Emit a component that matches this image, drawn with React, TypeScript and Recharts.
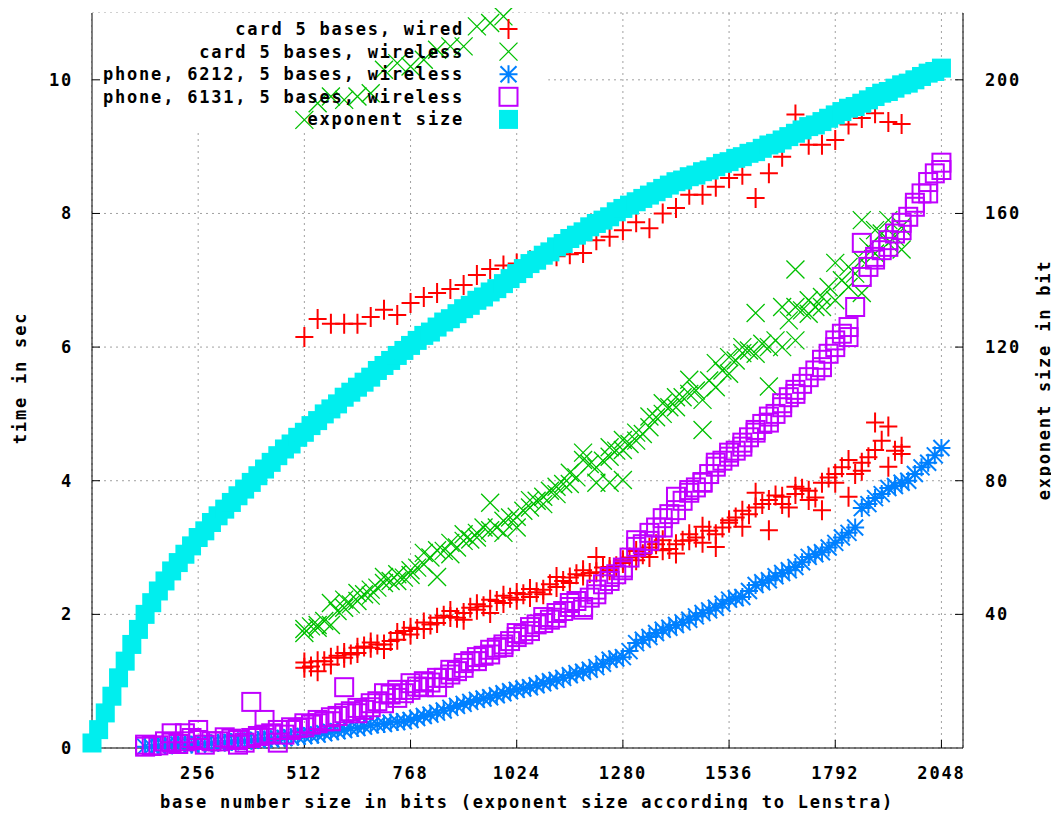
import React from "react";
import { ScatterChart, Scatter, XAxis, YAxis, CartesianGrid, ReferenceArea } from "recharts";

type Pt = [number, number];

const xTicks = [256, 512, 768, 1024, 1280, 1536, 1792, 2048];
const timeTicks = [0, 2, 4, 6, 8, 10];
const expTicks = [40, 80, 120, 160, 200];

// card 5 bases, wired: a slow first run and the main run
const wiredUpper: Pt[] = [
  [512, 6.15], [544, 6.42], [576, 6.35], [608, 6.35], [640, 6.35], [672, 6.45], [704, 6.56],
  [736, 6.48], [768, 6.66], [800, 6.75], [832, 6.81], [864, 6.87], [896, 6.93], [928, 7.08],
  [960, 7.17], [992, 7.22], [1024, 7.25], [1056, 7.3], [1088, 7.33], [1120, 7.36], [1152, 7.39],
  [1184, 7.41], [1216, 7.6], [1248, 7.65], [1280, 7.75], [1312, 7.87], [1344, 7.78], [1376, 8.0],
  [1408, 8.08], [1440, 8.28], [1472, 8.28], [1504, 8.4], [1536, 8.53], [1568, 8.58], [1600, 8.23],
  [1632, 8.6], [1664, 8.85], [1696, 9.48], [1728, 9.03], [1760, 9.03], [1792, 9.1], [1824, 9.33],
  [1856, 9.43], [1888, 9.5], [1920, 9.37], [1952, 9.34],
];
const wiredLower: Pt[] = [
  [512, 1.2], [512, 1.28], [528, 1.22], [544, 1.15], [544, 1.3], [560, 1.3], [576, 1.25], [576, 1.35],
  [592, 1.38], [608, 1.42], [608, 1.35], [624, 1.4], [640, 1.5], [640, 1.42], [656, 1.52], [672, 1.5],
  [672, 1.58], [688, 1.55], [704, 1.55], [704, 1.48], [720, 1.6], [736, 1.72], [736, 1.62], [752, 1.75],
  [768, 1.8], [768, 1.7], [784, 1.78], [800, 1.78], [800, 1.88], [816, 1.85], [832, 1.87], [832, 1.95],
  [848, 1.98], [864, 1.96], [864, 2.05], [880, 1.95], [896, 2.02], [896, 1.92], [912, 2.1], [928, 2.07],
  [928, 2.15], [944, 2.12], [960, 2.02], [960, 2.22], [976, 2.2], [992, 2.17], [992, 2.28], [1008, 2.25],
  [1024, 2.32], [1024, 2.22], [1040, 2.3], [1056, 2.26], [1056, 2.38], [1072, 2.33], [1088, 2.37],
  [1088, 2.3], [1104, 2.45], [1120, 2.41], [1120, 2.56], [1136, 2.5], [1152, 2.47], [1152, 2.55],
  [1168, 2.6], [1184, 2.66], [1184, 2.58], [1200, 2.62], [1216, 2.86], [1216, 2.63], [1232, 2.7],
  [1248, 2.71], [1248, 2.66], [1264, 2.72], [1280, 2.77], [1280, 2.81], [1296, 2.85], [1312, 2.81],
  [1312, 2.95], [1328, 2.9], [1344, 2.86], [1344, 3.0], [1360, 3.05], [1376, 2.96], [1376, 3.11],
  [1392, 2.98], [1408, 2.91], [1408, 3.05], [1424, 3.1], [1440, 3.11], [1440, 3.2], [1456, 3.15],
  [1472, 3.07], [1472, 3.31], [1488, 3.25], [1504, 3.01], [1504, 3.2], [1520, 3.3], [1536, 3.37],
  [1536, 3.41], [1552, 3.45], [1568, 3.31], [1568, 3.55], [1584, 3.5], [1600, 3.82], [1600, 3.6],
  [1616, 3.65], [1632, 3.71], [1632, 3.26], [1648, 3.78], [1664, 3.76], [1664, 3.65], [1680, 3.6],
  [1696, 3.91], [1696, 3.8], [1712, 3.88], [1728, 3.71], [1728, 3.85], [1744, 3.75], [1760, 3.97],
  [1760, 3.56], [1776, 4.05], [1792, 3.97], [1792, 4.1], [1808, 4.2], [1824, 4.31], [1824, 3.76],
  [1840, 4.1], [1856, 4.27], [1856, 4.15], [1872, 4.35], [1888, 4.87], [1888, 4.46], [1904, 4.6],
  [1920, 4.81], [1920, 4.21], [1936, 4.45], [1952, 4.51], [1952, 4.4],
];

// card 5 bases, wireless
const wirelessUpper: Pt[] = [
  [512, 9.4], [544, 9.65], [576, 9.75], [608, 9.7], [640, 9.75], [672, 9.8], [704, 10.15],
  [736, 10.25], [768, 10.2], [800, 10.3], [832, 10.45], [864, 10.5], [896, 10.5], [928, 10.8],
  [960, 10.85], [992, 10.95],
];
const wirelessLower: Pt[] = [
  [512, 1.78], [512, 1.72], [528, 1.82], [544, 1.84], [544, 1.8], [560, 1.9], [576, 1.84], [576, 2.17],
  [592, 2.05], [608, 2.22], [608, 2.1], [624, 2.15], [640, 2.32], [640, 2.2], [656, 2.3], [672, 2.37],
  [672, 2.28], [688, 2.4], [704, 2.47], [704, 2.56], [720, 2.5], [736, 2.5], [736, 2.6], [752, 2.55],
  [768, 2.59], [768, 2.66], [784, 2.7], [800, 2.92], [800, 2.75], [816, 2.85], [832, 2.56], [832, 2.96],
  [848, 2.95], [864, 3.07], [864, 2.9], [880, 3.0], [896, 3.1], [896, 3.2], [912, 3.12], [928, 3.22],
  [928, 3.15], [944, 3.3], [960, 3.26], [960, 3.67], [976, 3.3], [992, 3.22], [992, 3.4], [1008, 3.45],
  [1024, 3.46], [1024, 3.3], [1040, 3.55], [1056, 3.71], [1056, 3.6], [1072, 3.7], [1088, 3.76],
  [1088, 3.65], [1104, 3.85], [1120, 3.91], [1120, 3.8], [1136, 3.95], [1152, 4.12], [1152, 3.95],
  [1168, 4.05], [1184, 4.31], [1184, 4.42], [1200, 4.25], [1216, 3.97], [1216, 4.2], [1232, 4.3],
  [1248, 3.97], [1248, 4.36], [1248, 4.5], [1264, 4.45], [1280, 4.61], [1280, 4.46], [1280, 4.01],
  [1296, 4.55], [1312, 4.72], [1312, 4.6], [1328, 4.7], [1344, 4.96], [1344, 4.8], [1360, 4.95],
  [1376, 5.16], [1376, 5.0], [1392, 5.1], [1408, 5.25], [1408, 5.1], [1424, 5.25], [1440, 5.51],
  [1440, 5.3], [1456, 5.35], [1472, 5.21], [1472, 4.76], [1488, 5.5], [1504, 5.76], [1504, 5.4],
  [1520, 5.65], [1536, 5.6], [1536, 5.85], [1552, 5.8], [1568, 6.0], [1568, 5.91], [1584, 5.95],
  [1600, 6.51], [1600, 5.9], [1616, 6.05], [1632, 6.0], [1632, 5.41], [1648, 6.1], [1664, 6.6],
  [1664, 6.0], [1680, 6.4], [1696, 7.16], [1696, 6.1], [1696, 6.6], [1712, 6.55], [1728, 6.7],
  [1728, 6.5], [1744, 6.6], [1760, 6.75], [1760, 6.6], [1776, 6.9], [1792, 7.26], [1792, 6.7],
  [1808, 7.0], [1824, 7.2], [1824, 6.9], [1840, 7.1], [1856, 6.81], [1856, 7.9], [1856, 7.3],
  [1872, 7.5], [1888, 7.75], [1888, 7.4], [1904, 7.7], [1920, 7.9], [1920, 7.56], [1936, 7.65],
  [1952, 7.46], [1952, 7.8],
];

// phone, 6212, 5 bases, wireless
const phone6212: Pt[] = [
  [128, 0.02], [144, 0.02], [160, 0.03], [176, 0.03], [192, 0.04], [208, 0.05], [224, 0.05],
  [240, 0.05], [256, 0.06], [272, 0.06], [288, 0.07], [304, 0.08], [320, 0.08], [336, 0.09],
  [352, 0.1], [368, 0.1], [384, 0.11], [400, 0.12], [416, 0.13], [432, 0.13], [448, 0.14],
  [464, 0.15], [480, 0.16], [496, 0.17], [512, 0.18], [528, 0.19], [544, 0.2], [560, 0.22],
  [576, 0.24], [592, 0.25], [608, 0.27], [624, 0.29], [640, 0.3], [656, 0.32], [672, 0.34],
  [688, 0.35], [704, 0.36], [720, 0.38], [736, 0.39], [752, 0.4], [768, 0.42], [784, 0.45],
  [800, 0.48], [816, 0.5], [832, 0.53], [848, 0.56], [864, 0.6], [880, 0.63], [896, 0.66],
  [912, 0.69], [928, 0.72], [944, 0.74], [960, 0.76], [976, 0.79], [992, 0.82], [1008, 0.85],
  [1024, 0.87], [1040, 0.89], [1056, 0.91], [1072, 0.94], [1088, 0.97], [1104, 1.0], [1120, 1.02],
  [1136, 1.05], [1152, 1.09], [1168, 1.12], [1184, 1.14], [1200, 1.17], [1216, 1.21], [1232, 1.26],
  [1248, 1.32], [1264, 1.34], [1280, 1.36], [1296, 1.45], [1312, 1.57], [1328, 1.62], [1344, 1.66],
  [1360, 1.72], [1376, 1.77], [1392, 1.8], [1408, 1.84], [1424, 1.88], [1440, 1.92], [1456, 1.97],
  [1472, 2.02], [1488, 2.06], [1504, 2.1], [1520, 2.16], [1536, 2.22], [1552, 2.24], [1568, 2.26],
  [1584, 2.35], [1600, 2.44], [1616, 2.48], [1632, 2.51], [1648, 2.57], [1664, 2.62], [1680, 2.66],
  [1696, 2.71], [1712, 2.78], [1728, 2.86], [1744, 2.9], [1760, 2.93], [1776, 3.0], [1792, 3.07],
  [1808, 3.15], [1824, 3.22], [1840, 3.3], [1856, 3.59], [1872, 3.65], [1888, 3.74], [1904, 3.8],
  [1920, 3.89], [1936, 3.92], [1952, 3.97], [1968, 4.0], [1984, 4.1], [2000, 4.2], [2016, 4.27],
  [2032, 4.38], [2048, 4.49],
];

// phone, 6131, 5 bases, wireless
const phone6131: Pt[] = [
  [128, 0.02], [128, 0.05], [144, 0.03], [160, 0.04], [176, 0.1], [192, 0.22], [192, 0.08],
  [208, 0.06], [224, 0.22], [224, 0.1], [240, 0.15], [256, 0.27], [256, 0.12], [272, 0.05],
  [288, 0.1], [304, 0.1], [320, 0.16], [336, 0.14], [352, 0.12], [352, 0.05], [368, 0.08],
  [384, 0.69], [384, 0.15], [400, 0.18], [416, 0.42], [416, 0.2], [432, 0.22], [448, 0.27],
  [448, 0.08], [464, 0.2], [480, 0.27], [480, 0.31], [496, 0.3], [512, 0.31], [512, 0.37],
  [528, 0.35], [544, 0.42], [544, 0.37], [560, 0.4], [576, 0.46], [576, 0.4], [592, 0.48],
  [608, 0.91], [608, 0.52], [624, 0.55], [640, 0.52], [640, 0.6], [656, 0.57], [672, 0.61],
  [672, 0.67], [688, 0.7], [704, 0.82], [704, 0.67], [720, 0.8], [736, 0.87], [736, 0.75],
  [752, 0.82], [768, 0.97], [768, 0.87], [784, 0.92], [800, 0.91], [800, 1.0], [816, 0.98],
  [832, 0.91], [832, 1.05], [848, 1.05], [864, 1.17], [864, 1.1], [880, 1.15], [896, 1.27],
  [896, 1.2], [912, 1.3], [928, 1.36], [928, 1.3], [944, 1.38], [960, 1.47], [960, 1.4], [976, 1.5],
  [992, 1.51], [992, 1.55], [1008, 1.6], [1024, 1.66], [1024, 1.72], [1040, 1.7], [1056, 1.81],
  [1056, 1.75], [1072, 1.85], [1088, 1.87], [1088, 1.96], [1104, 1.92], [1120, 2.02], [1120, 1.95],
  [1136, 2.05], [1152, 2.11], [1152, 2.17], [1168, 2.2], [1184, 2.07], [1184, 2.11], [1200, 2.25],
  [1216, 2.37], [1216, 2.3], [1232, 2.45], [1248, 2.56], [1248, 2.5], [1264, 2.6], [1280, 2.66],
  [1280, 2.7], [1296, 2.85], [1312, 3.01], [1312, 3.11], [1328, 3.05], [1344, 3.22], [1344, 3.1],
  [1360, 3.3], [1376, 3.44], [1376, 3.3], [1392, 3.5], [1408, 3.56], [1408, 3.76], [1424, 3.7],
  [1440, 3.82], [1440, 3.86], [1456, 3.9], [1472, 3.98], [1472, 3.97], [1488, 4.1], [1504, 4.21],
  [1504, 4.27], [1520, 4.3], [1536, 4.42], [1536, 4.36], [1552, 4.45], [1568, 4.57], [1568, 4.51],
  [1584, 4.65], [1600, 4.76], [1600, 4.72], [1616, 4.85], [1632, 4.96], [1632, 4.87], [1648, 5.0],
  [1664, 5.1], [1664, 5.16], [1680, 5.25], [1696, 5.36], [1696, 5.3], [1712, 5.45], [1728, 5.55],
  [1744, 5.65], [1760, 5.81], [1760, 5.7], [1776, 5.9], [1792, 6.0], [1792, 6.1], [1808, 6.2],
  [1824, 6.3], [1824, 6.15], [1840, 6.6], [1856, 7.05], [1856, 7.56], [1872, 7.2], [1888, 7.31],
  [1888, 7.35], [1904, 7.45], [1920, 7.6], [1920, 7.5], [1936, 7.7], [1952, 7.86], [1952, 7.75],
  [1968, 7.95], [1984, 8.1], [1984, 8.16], [2000, 8.3], [2016, 8.47], [2016, 8.3], [2032, 8.6],
  [2048, 8.76], [2048, 8.65],
];

// exponent size (right axis, bits)
const exponentSize: Pt[] = [
  [0, 1.5], [16, 5.5], [32, 10.5], [48, 15.5], [64, 21], [80, 26], [96, 31], [112, 35.5], [128, 40],
  [144, 43.5], [160, 47], [176, 50], [192, 53], [208, 55.5], [224, 58], [240, 60.5], [256, 63],
  [272, 65], [288, 67.5], [304, 69.5], [320, 71.5], [336, 73.5], [352, 75.5], [368, 77.5],
  [384, 79.5], [400, 81.5], [416, 83.5], [432, 85.5], [448, 87.5], [464, 89.5], [480, 91],
  [496, 93], [512, 94.5], [528, 96.5], [544, 98], [560, 100], [576, 101.5], [592, 103], [608, 105],
  [624, 106.5], [640, 108], [656, 109.5], [672, 111], [688, 113], [704, 114.5], [720, 116],
  [736, 117.5], [752, 119], [768, 120.5], [784, 122], [800, 123.5], [816, 124.5], [832, 126],
  [848, 127.5], [864, 128.5], [880, 130], [896, 131.5], [912, 132.5], [928, 134], [944, 135],
  [960, 136.5], [976, 137.5], [992, 139], [1008, 140.5], [1024, 142], [1040, 143.5], [1056, 145],
  [1072, 146], [1088, 147.5], [1104, 148.5], [1120, 150], [1136, 151], [1152, 152.5], [1168, 153.5],
  [1184, 154.5], [1200, 156], [1216, 157], [1232, 158], [1248, 159], [1264, 160.5], [1280, 161.5],
  [1296, 162.5], [1312, 163.5], [1328, 164.5], [1344, 165.5], [1360, 166.5], [1376, 167.5],
  [1392, 168.5], [1408, 169.5], [1424, 170], [1440, 171], [1456, 171.5], [1472, 172.5], [1488, 173],
  [1504, 174], [1520, 175], [1536, 175.5], [1552, 176.5], [1568, 177], [1584, 178], [1600, 178.5],
  [1616, 179.5], [1632, 180.5], [1648, 181], [1664, 182], [1680, 183], [1696, 184], [1712, 185],
  [1728, 186], [1744, 186.5], [1760, 187.5], [1776, 188.5], [1792, 189.5], [1808, 190.5],
  [1824, 191.5], [1840, 192], [1856, 193], [1872, 194], [1888, 195], [1904, 196], [1920, 196.5],
  [1936, 197.5], [1952, 198.5], [1968, 199], [1984, 200], [2000, 201], [2016, 202], [2032, 202.5],
  [2048, 203.5],
];

const RED = "#ff0000";
const GREEN = "#00c000";
const BLUE = "#0080ff";
const PURPLE = "#c000ff";
const CYAN = "#00eeee";

const FONT = "'DejaVu Sans Mono', 'Liberation Mono', monospace";
const tickStyle = { fontFamily: FONT, fontWeight: 700, fontSize: 17, letterSpacing: 1.8, fill: "#000" };

const toXY = (pts: Pt[]) => pts.map(([x, y]) => ({ x, y }));

const plus = (color: string) => (p: any) => (
  <path d={`M${p.cx - 9},${p.cy}H${p.cx + 9}M${p.cx},${p.cy - 10}V${p.cy + 10}`} stroke={color} strokeWidth={2} fill="none" />
);
const cross = (color: string) => (p: any) => (
  <path
    d={`M${p.cx - 9},${p.cy - 9}L${p.cx + 9},${p.cy + 9}M${p.cx - 9},${p.cy + 9}L${p.cx + 9},${p.cy - 9}`}
    stroke={color} strokeWidth={1.3} fill="none"
  />
);
const star = (color: string) => (p: any) => (
  <path
    d={`M${p.cx - 9},${p.cy}H${p.cx + 9}M${p.cx},${p.cy - 9}V${p.cy + 9}M${p.cx - 8},${p.cy - 8}L${p.cx + 8},${p.cy + 8}M${p.cx - 8},${p.cy + 8}L${p.cx + 8},${p.cy - 8}`}
    stroke={color} strokeWidth={2} fill="none"
  />
);
const openSquare = (color: string) => (p: any) => (
  <rect x={p.cx - 9} y={p.cy - 9} width={18} height={18} stroke={color} strokeWidth={2} fill="none" />
);
const filledSquare = (color: string) => (p: any) => (
  <rect x={p.cx - 9.5} y={p.cy - 9.5} width={19} height={19} fill={color} />
);

const legendRows = [
  { name: "card 5 bases, wired", shape: plus(RED) },
  { name: "card 5 bases, wireless", shape: cross(GREEN) },
  { name: "phone, 6212, 5 bases, wireless", shape: star(BLUE) },
  { name: "phone, 6131, 5 bases, wireless", shape: openSquare(PURPLE) },
  { name: "exponent size", shape: filledSquare(CYAN) },
];

export default function App() {
  return (
    <div style={{ position: "relative", width: 1043, height: 802 }}>
      <ScatterChart width={1043} height={800} margin={{ top: 5, right: 0, bottom: 0, left: 0 }}>
        <CartesianGrid yAxisId="left" stroke="#a0a0a0" strokeDasharray="2 4" />
        <XAxis
          dataKey="x"
          type="number"
          domain={[0, 2100]}
          ticks={xTicks}
          interval={0}
          height={60}
          stroke="#000"
          tickSize={-8}
          tickMargin={27}
          tick={tickStyle}
        />
        <XAxis
          xAxisId="top"
          orientation="top"
          dataKey="x"
          type="number"
          domain={[0, 2100]}
          ticks={xTicks}
          interval={0}
          height={0}
          stroke="#000"
          tickSize={-8}
          tick={false}
        />
        <YAxis
          yAxisId="left"
          dataKey="y"
          type="number"
          domain={[0, 11]}
          ticks={timeTicks}
          interval={0}
          width={84}
          stroke="#000"
          tickSize={-8}
          tickMargin={27}
          tick={tickStyle}
        />
        <YAxis
          yAxisId="right"
          orientation="right"
          dataKey="y"
          type="number"
          domain={[0, 220]}
          ticks={expTicks}
          interval={0}
          width={88}
          stroke="#000"
          tickSize={-8}
          tickMargin={30}
          tick={tickStyle}
        />
        <ReferenceArea yAxisId="left" x1={0} x2={1100} y1={9.25} y2={11} fill="#ffffff" fillOpacity={1} stroke="none" />
        <Scatter yAxisId="left" data={toXY([...wiredUpper, ...wiredLower])} shape={plus(RED)} isAnimationActive={false} />
        <Scatter yAxisId="left" data={toXY([...wirelessUpper, ...wirelessLower])} shape={cross(GREEN)} isAnimationActive={false} />
        <Scatter yAxisId="left" data={toXY(phone6212)} shape={star(BLUE)} isAnimationActive={false} />
        <Scatter yAxisId="left" data={toXY(phone6131)} shape={openSquare(PURPLE)} isAnimationActive={false} />
        <Scatter yAxisId="right" data={toXY(exponentSize)} shape={filledSquare(CYAN)} isAnimationActive={false} />
      </ScatterChart>
      <svg
        width={1043}
        height={802}
        overflow="visible"
        style={{ position: "absolute", left: 0, top: 0, pointerEvents: "none", overflow: "visible" }}
      >
        {legendRows.map((row, i) => {
          const y = 21 + i * 22.6;
          return (
            <g key={row.name}>
              <text x={456} y={y} textAnchor="end" dominantBaseline="central" style={tickStyle as any}>
                {row.name}
              </text>
              {row.shape({ cx: 500.5, cy: y })}
            </g>
          );
        })}
        <text x={519} y={794} textAnchor="middle" dominantBaseline="central" style={tickStyle as any}>
          base number size in bits (exponent size according to Lenstra)
        </text>
        <text transform="translate(12,370) rotate(-90)" textAnchor="middle" dominantBaseline="central" style={tickStyle as any}>
          time in sec
        </text>
        <text transform="translate(1036,372) rotate(-90)" textAnchor="middle" dominantBaseline="central" style={tickStyle as any}>
          exponent size in bit
        </text>
      </svg>
    </div>
  );
}
